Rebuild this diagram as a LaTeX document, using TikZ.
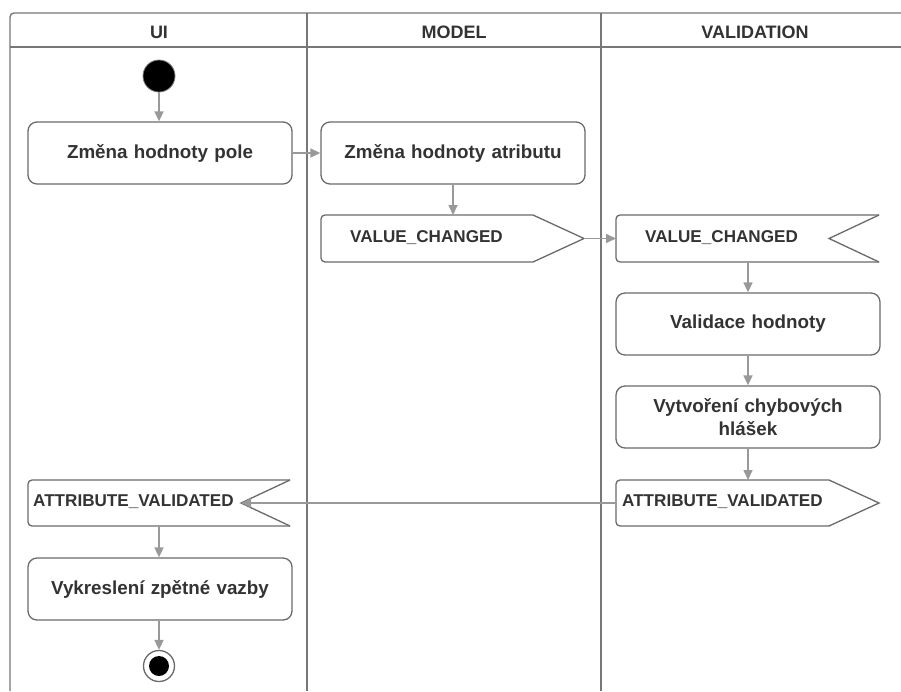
\documentclass[tikz,border=0pt]{standalone}
\usepackage{fontspec}
\setmainfont{Liberation Sans}
\usetikzlibrary{arrows.meta}
\definecolor{lane}{HTML}{777777}
\definecolor{edge}{HTML}{6A6A6A}
\definecolor{flow}{HTML}{999999}
\definecolor{ink}{HTML}{333333}

\begin{document}
\begin{tikzpicture}[x=1pt,y=-1pt,
  laneline/.style={draw=lane, line width=1.4pt},
  lanehead/.style={font=\bfseries\fontsize{18}{22}\selectfont, text=ink},
  act/.style={draw=edge, line width=1.3pt, rounded corners=9pt, fill=white,
    minimum width=264pt, minimum height=62pt, inner sep=0pt,
    text width=240pt, align=center, text=ink,
    font=\bfseries\fontsize{18.8}{23}\selectfont},
  sigshape/.style={draw=edge, line width=1.3pt, fill=white},
  sigtext/.style={anchor=west, inner sep=0pt, text=ink,
    font=\bfseries\fontsize{17.1}{20}\selectfont},
  flowarrow/.style={draw=flow, line width=1.6pt,
    -{Triangle[length=10pt,width=9pt]}},
  startdot/.style={circle, fill=black, draw=lane, line width=0.8pt,
    minimum size=32pt, inner sep=0pt},
  endring/.style={circle, fill=white, draw=edge, line width=1.3pt,
    minimum size=31pt, inner sep=0pt},
  enddot/.style={circle, fill=black, minimum size=20pt, inner sep=0pt}]

\useasboundingbox (0,0) rectangle (901,691);

% swimlane frame
\draw[laneline, rounded corners=4pt] (10,691) -- (10,13) -- (901,13);
\draw[laneline] (10,47) -- (901,47);
\draw[laneline] (307,13) -- (307,691);
\draw[laneline] (601,13) -- (601,691);
\node[lanehead] (hui) at (159,32) {UI};
\node[lanehead] (hmodel) at (454,32) {MODEL};
\node[lanehead] (hval) at (755,32) {VALIDATION};

% UI lane
\node[startdot] (start) at (159,76) {};
\node[act] (pole) at (160,153) {Změna hodnoty pole};

% MODEL lane
\node[act] (attr) at (453,153) {Změna hodnoty atributu};

% send signal VALUE_CHANGED
\draw[sigshape, rounded corners=4pt] (533,215) -- (321,215) -- (321,262) -- (533,262);
\draw[sigshape] (533,262) -- (584,238.5) -- (533,215);
\coordinate (vcsTop) at (453,215);
\coordinate (vcsTip) at (584,238.5);
\node[sigtext] (vcs) at (350,238) {VALUE\_CHANGED};

% VALIDATION lane: receive signal VALUE_CHANGED
\draw[sigshape, rounded corners=4pt] (879,215) -- (616,215) -- (616,262) -- (879,262);
\draw[sigshape] (879,262) -- (829,238.5) -- (879,215);
\coordinate (vcrLeft) at (616,238.5);
\coordinate (vcrBottom) at (748,262);
\node[sigtext] (vcr) at (645,238) {VALUE\_CHANGED};

\node[act] (valid) at (748,324) {Validace hodnoty};
\node[act] (msgs) at (748,417) {Vytvoření chybových\\hlášek};

% send signal ATTRIBUTE_VALIDATED
\draw[sigshape, rounded corners=4pt] (829,480) -- (616,480) -- (616,526) -- (829,526);
\draw[sigshape] (829,526) -- (879,503) -- (829,480);
\coordinate (avsTop) at (748,480);
\coordinate (avsLeft) at (616,503);
\node[sigtext] (avs) at (622,502) {ATTRIBUTE\_VALIDATED};

% UI lane: receive signal ATTRIBUTE_VALIDATED
\draw[sigshape, rounded corners=4pt] (290,480) -- (28,480) -- (28,526) -- (290,526);
\draw[sigshape] (290,526) -- (241,503) -- (290,480);
\coordinate (avrNotch) at (241,503);
\coordinate (avrBottom) at (159,526);
\node[sigtext] (avr) at (33,502) {ATTRIBUTE\_VALIDATED};

\node[act] (feedback) at (160,589) {Vykreslení zpětné vazby};
\node[endring] (finish) at (159,666) {};
\node[enddot] (finishdot) at (finish.center) {};

% control flow
\draw[flowarrow] (start.south) -- (pole.north -| start.south);
\draw[flowarrow] (pole.east) -- (attr.west);
\draw[flowarrow] (attr.south) -- (vcsTop);
\draw[flowarrow] (vcsTip) -- (vcrLeft);
\draw[flowarrow] (vcrBottom) -- (valid.north);
\draw[flowarrow] (valid.south) -- (msgs.north);
\draw[flowarrow] (msgs.south) -- (avsTop);
\draw[flowarrow] (avsLeft) -- (avrNotch);
\draw[flowarrow] (avrBottom) -- (feedback.north -| avrBottom);
\draw[flowarrow] (feedback.south -| finish.north) -- (finish.north);
\end{tikzpicture}
\end{document}
